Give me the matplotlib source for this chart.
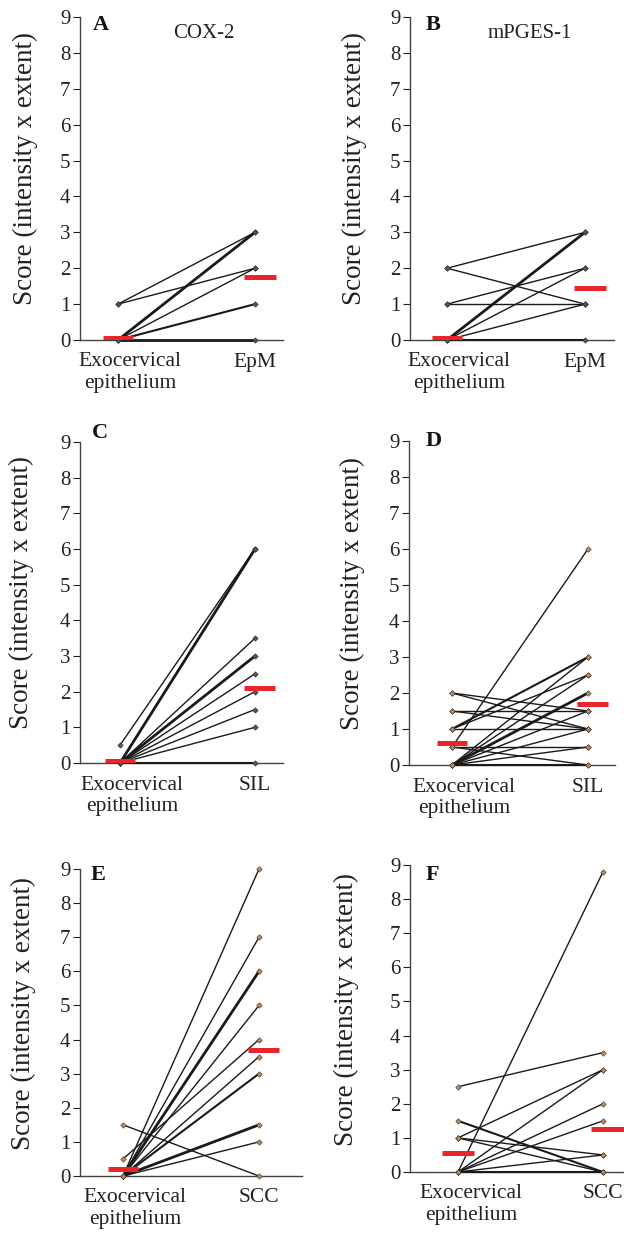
import matplotlib
matplotlib.use('Agg')
import matplotlib.pyplot as plt
from collections import Counter

plt.rcParams['font.family'] = ['Liberation Serif', 'DejaVu Serif']

# paired scores: exocervical epithelium -> lesion, one entry per patient
a_exo = [1, 1, 0, 0, 0, 0, 0, 0, 0, 0, 0]
a_les = [3, 2, 3, 3, 3, 2, 1, 1, 0, 0, 0]
b_exo = [2, 2, 1, 1, 0, 0, 0, 0, 0, 0, 0]
b_les = [3, 1, 1, 2, 3, 3, 3, 2, 1, 0, 0]
c_exo = [0.5, 0, 0, 0, 0, 0, 0, 0, 0, 0, 0, 0, 0, 0]
c_les = [6, 6, 6, 6, 3.5, 3, 3, 3, 2.5, 2, 1.5, 1, 0, 0]
d_exo = [2, 2, 1.5, 1.5, 1, 1, 1, 1, 0.5, 0.5, 0.5, 0, 0, 0, 0, 0, 0, 0, 0, 0, 0]
d_les = [1.5, 1, 1.5, 1, 3, 3, 2.5, 1, 6, 0.5, 0, 3, 2, 2, 2, 2.5, 1.5, 1, 0.5, 0, 0]
e_exo = [1.5, 0.5, 0, 0, 0, 0, 0, 0, 0, 0, 0, 0, 0, 0, 0]
e_les = [0, 4, 9, 7, 6, 6, 6, 5, 3.5, 3, 3, 1.5, 1.5, 1.5, 1]
f_exo = [0, 2.5, 1.5, 1.5, 1, 1, 1, 0, 0, 0, 0, 0, 0]
f_les = [8.8, 3.5, 0, 0, 3, 0.5, 0, 3, 2, 1.5, 0.5, 0, 0]

# medians (red bars)
med_exo = [0.05, 0.05, 0.05, 0.6, 0.2, 0.55]
med_les = [1.75, 1.45, 2.1, 1.7, 3.7, 1.25]

letters = ['A', 'B', 'C', 'D', 'E', 'F']
titles = ['COX-2', 'mPGES-1', '', '', '', '']
lesions = ['EpM', 'EpM', 'SIL', 'SIL', 'SCC', 'SCC']
exo_label = 'Exocervical\nepithelium'
ylabel = 'Score (intensity x extent)'

panels = [(a_exo, a_les), (b_exo, b_les), (c_exo, c_les),
          (d_exo, d_les), (e_exo, e_les), (f_exo, f_les)]

W, H = 624, 1235
# pixel layout: spine x, y of 0, y of 9, x end of axis, x of exo, x of lesion
boxes = [(80, 340, 17, 283, 118, 255),
         (410, 340, 17, 614, 447, 585),
         (80, 763, 442, 283, 120, 255),
         (409, 765, 441, 615, 452, 588),
         (80, 1176, 869, 302, 123, 259),
         (410, 1172, 865, 624, 458, 603)]
letter_xy = [(101, 25), (433, 25), (100, 433), (434, 441), (98, 875), (432, 875)]
title_xy = [(204, 33), (530, 33)]
ylabel_x = [38, 367, 34, 365, 36, 359]   # right edge of the rotated label
marker_fc = ['#555555', '#555555', '#555555', '#c08a5a', '#c08a5a', '#c08a5a']

fig = plt.figure(figsize=(W / 100, H / 100), dpi=100)

for i, (exo, les) in enumerate(panels):
    sx, y0, y9, xe, px0, px1 = boxes[i]
    ax = fig.add_axes([sx / W, (H - y0) / H, (xe - sx) / W, (y0 - y9) / H])
    unit = px1 - px0
    ax.set_xlim((sx - px0) / unit, (xe - px0) / unit)
    ax.set_ylim(0, 9)

    counts = Counter(zip(exo, les))
    for (v0, v1), n in counts.items():
        ax.plot([0, 1], [v0, v1], color='#1a1a1a', lw=1.0 + 0.5 * (n - 1),
                marker='D', markersize=2.8, markerfacecolor=marker_fc[i],
                markeredgecolor='#333333', markeredgewidth=0.4,
                clip_on=False, zorder=3)

    ax.hlines(med_exo[i], -0.11, 0.11, color='#e8252a', lw=3.6, zorder=4)
    ax.hlines(med_les[i], 0.92, 1.15, color='#e8252a', lw=3.6, zorder=4)

    for s in ['top', 'right']:
        ax.spines[s].set_visible(False)
    for s in ['left', 'bottom']:
        ax.spines[s].set_linewidth(1.0)
        ax.spines[s].set_color('#444444')

    ax.set_yticks(range(10))
    ax.tick_params(axis='y', direction='out', length=5, width=0.8,
                   labelsize=15, pad=2, colors='#222222')
    ax.set_xticks([0.09, 1])
    ax.set_xticklabels([exo_label, lesions[i]], fontsize=15.5, color='#222222',
                       linespacing=1.2)
    ax.tick_params(axis='x', length=0, pad=9)

    ax.set_ylabel(ylabel, fontsize=19.5, color='#222222')
    ax.yaxis.set_label_coords((ylabel_x[i] - sx) / (xe - sx), 0.53)

    lx, ly = letter_xy[i]
    fig.text(lx / W, 1 - ly / H, letters[i], fontsize=16, fontweight='bold',
             ha='center', va='center', color='#111111')
    if titles[i]:
        tx, ty = title_xy[i]
        fig.text(tx / W, 1 - ty / H, titles[i], fontsize=15, ha='center',
                 va='center', color='#222222')

fig.savefig('out.png', dpi=100)
